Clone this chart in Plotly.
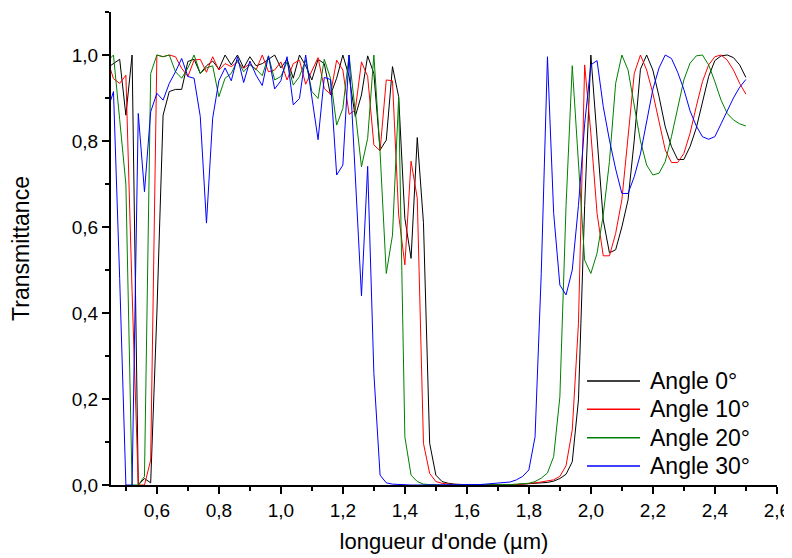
import plotly.graph_objects as go

# -------------------------------------------------------------------
# DATA
# -------------------------------------------------------------------
wavelength = [
    0.44, 0.46, 0.48, 0.50, 0.52, 0.54, 0.56, 0.58, 0.60, 0.62,
    0.64, 0.66, 0.68, 0.70, 0.72, 0.74, 0.76, 0.78, 0.80, 0.82,
    0.84, 0.86, 0.88, 0.90, 0.92, 0.94, 0.96, 0.98, 1.00, 1.02,
    1.04, 1.06, 1.08, 1.10, 1.12, 1.14, 1.16, 1.18, 1.20, 1.22,
    1.24, 1.26, 1.28, 1.30, 1.32, 1.34, 1.36, 1.38, 1.40, 1.42,
    1.44, 1.46, 1.48, 1.50, 1.52, 1.54, 1.56, 1.58, 1.60, 1.62,
    1.64, 1.66, 1.68, 1.70, 1.72, 1.74, 1.76, 1.78, 1.80, 1.82,
    1.84, 1.86, 1.88, 1.90, 1.92, 1.94, 1.96, 1.98, 2.00, 2.02,
    2.04, 2.06, 2.08, 2.10, 2.12, 2.14, 2.16, 2.18, 2.20, 2.22,
    2.24, 2.26, 2.28, 2.30, 2.32, 2.34, 2.36, 2.38, 2.40, 2.42,
    2.44, 2.46, 2.48, 2.50,
]

angle_0 = [
    0.97, 0.98, 0.99, 0.86, 1.00, 0.00, 0.015, 0.005, 0.40, 0.86,
    0.915, 0.92, 0.92, 0.985, 0.99, 0.957, 0.975, 0.986, 0.967, 1.00,
    0.977, 1.00, 0.97, 0.996, 0.975, 0.98, 0.99, 1.00, 0.97, 0.99,
    0.946, 1.00, 0.975, 0.942, 0.99, 0.98, 0.907, 0.946, 1.00, 0.95,
    0.857, 0.907, 0.998, 0.957, 0.779, 0.802, 0.973, 0.903, 0.62, 0.527,
    0.808, 0.61, 0.097, 0.023, 0.008, 0.004, 0.002, 0.001, 0.0, 0.0,
    0.0, 0.0, 0.0, 0.0, 0.0, 0.001, 0.001, 0.002, 0.003, 0.004,
    0.005, 0.006, 0.009, 0.015, 0.025, 0.054, 0.198, 0.65, 1.00, 0.802,
    0.616, 0.54, 0.547, 0.60, 0.663, 0.802, 0.967, 1.00, 0.965, 0.903,
    0.833, 0.787, 0.757, 0.757, 0.787, 0.83, 0.891, 0.95, 0.987, 0.998,
    1.00, 0.994, 0.977, 0.948,
]

angle_10 = [
    0.99, 0.945, 0.934, 0.953, 0.45, 0.0, 0.0, 0.058, 1.00, 0.996,
    1.00, 0.996, 0.969, 0.95, 0.988, 0.99, 0.96, 0.996, 0.965, 0.98,
    0.973, 0.984, 0.969, 0.98, 0.965, 1.00, 0.961, 0.965, 0.984, 0.942,
    0.98, 0.988, 0.932, 0.965, 0.994, 0.922, 0.909, 0.988, 0.965, 0.862,
    0.872, 0.984, 0.95, 0.791, 0.777, 0.942, 0.94, 0.628, 0.512, 0.753,
    0.667, 0.097, 0.027, 0.008, 0.004, 0.002, 0.001, 0.0, 0.0, 0.0,
    0.0, 0.0, 0.0, 0.0, 0.0, 0.001, 0.001, 0.002, 0.003, 0.005,
    0.007, 0.009, 0.012, 0.02, 0.045, 0.128, 0.376, 0.977, 0.818, 0.632,
    0.533, 0.533, 0.585, 0.663, 0.802, 0.957, 1.00, 0.965, 0.911, 0.841,
    0.779, 0.75, 0.75, 0.771, 0.818, 0.88, 0.938, 0.977, 0.996, 1.00,
    0.988, 0.965, 0.934, 0.909,
]

angle_20 = [
    0.985, 1.00, 0.85, 0.70, 0.0, 0.0, 0.02, 0.957, 1.00, 0.996,
    1.00, 0.961, 0.946, 0.97, 1.00, 0.957, 0.97, 0.975, 0.903, 0.946,
    0.957, 0.988, 0.961, 0.977, 0.967, 0.952, 0.998, 0.942, 0.95, 0.984,
    0.93, 0.95, 0.988, 0.915, 0.899, 0.99, 0.946, 0.837, 0.876, 1.00,
    0.868, 0.74, 0.806, 1.00, 0.775, 0.492, 0.581, 0.901, 0.112, 0.023,
    0.008, 0.002, 0.001, 0.0, 0.0, 0.0, 0.0, 0.0, 0.0, 0.0,
    0.0, 0.0, 0.0, 0.001, 0.001, 0.001, 0.002, 0.003, 0.004, 0.008,
    0.016, 0.028, 0.066, 0.205, 0.65, 0.975, 0.75, 0.523, 0.492, 0.539,
    0.628, 0.752, 0.934, 1.00, 0.965, 0.884, 0.80, 0.744, 0.721, 0.725,
    0.752, 0.81, 0.88, 0.942, 0.981, 0.998, 1.00, 0.977, 0.938, 0.895,
    0.864, 0.849, 0.84, 0.835,
]

angle_30 = [
    0.87, 0.915, 0.48, 0.0, 0.0, 0.864, 0.682, 0.868, 0.911, 0.895,
    0.934, 0.961, 0.992, 0.95, 0.946, 0.857, 0.609, 0.853, 0.94, 0.97,
    0.94, 0.996, 0.936, 0.986, 0.953, 0.929, 0.998, 0.921, 0.94, 0.996,
    0.884, 0.899, 1.00, 0.897, 0.803, 0.948, 0.943, 0.721, 0.744, 1.00,
    0.72, 0.44, 0.741, 0.26, 0.023, 0.005, 0.002, 0.001, 0.0, 0.0,
    0.0, 0.0, 0.0, 0.0, 0.0, 0.0, 0.0, 0.0, 0.0, 0.001,
    0.001, 0.002, 0.003, 0.004, 0.005, 0.007, 0.012, 0.02, 0.035, 0.112,
    0.492, 0.996, 0.632, 0.465, 0.442, 0.50, 0.65, 0.84, 0.977, 0.987,
    0.88, 0.802, 0.735, 0.678, 0.678, 0.717, 0.77, 0.845, 0.92, 0.97,
    1.00, 0.992, 0.96, 0.92, 0.87, 0.835, 0.81, 0.804, 0.81, 0.84,
    0.87, 0.90, 0.925, 0.943,
]

series_names = ["Angle 0°", "Angle 10°", "Angle 20°", "Angle 30°"]
series_values = [angle_0, angle_10, angle_20, angle_30]
series_colors = ["#000000", "#FF0000", "#008000", "#0000FF"]

FONT = "Liberation Sans, Arial, sans-serif"

# -------------------------------------------------------------------
# FIGURE
# -------------------------------------------------------------------
fig = go.Figure()

for name, values, color in zip(series_names, series_values, series_colors):
    fig.add_trace(
        go.Scatter(
            x=wavelength,
            y=values,
            mode="lines",
            name=name,
            line=dict(color=color, width=1),
            showlegend=False,
        )
    )

# hand-made legend (long line samples like the original)
legend_rows = [0.22, 0.16, 0.10, 0.04]
shapes = []
annotations = []
for name, color, yrow in zip(series_names, series_colors, legend_rows):
    shapes.append(
        dict(type="line", xref="paper", yref="paper",
             x0=0.7147, x1=0.7943, y0=yrow, y1=yrow,
             line=dict(color=color, width=1.5))
    )
    annotations.append(
        dict(xref="paper", yref="paper", x=0.806, y=yrow,
             xanchor="left", yanchor="middle", text=name, showarrow=False,
             font=dict(family=FONT, size=23, color="black"))
    )

axis_common = dict(
    showline=True,
    linecolor="black",
    linewidth=2,
    showgrid=False,
    zeroline=False,
    ticks="outside",
    ticklen=7,
    tickwidth=2,
    tickcolor="black",
    tickformat=".1f",
    tick0=0,
    dtick=0.2,
    tickfont=dict(family=FONT, size=19, color="black"),
    minor=dict(ticks="outside", ticklen=4, tickwidth=2, tickcolor="black",
               dtick=0.1, tick0=0, showgrid=False),
)

# the page body adds an 8 px offset, margins compensate for it
fig.update_layout(
    width=792,
    height=558,
    margin=dict(l=103, r=23, t=4, b=81),
    plot_bgcolor="white",
    paper_bgcolor="white",
    separators=", ",
    font=dict(family=FONT, color="black"),
    showlegend=False,
    xaxis=dict(
        axis_common,
        range=[0.452, 2.6005],
        title=dict(text="longueur d'onde (µm)", font=dict(family=FONT, size=22), standoff=14),
    ),
    yaxis=dict(
        axis_common,
        range=[0, 1.1],
        title=dict(text="Transmittance", font=dict(family=FONT, size=23), standoff=38),
    ),
    shapes=shapes,
    annotations=annotations,
)

fig.write_html("out.html")
